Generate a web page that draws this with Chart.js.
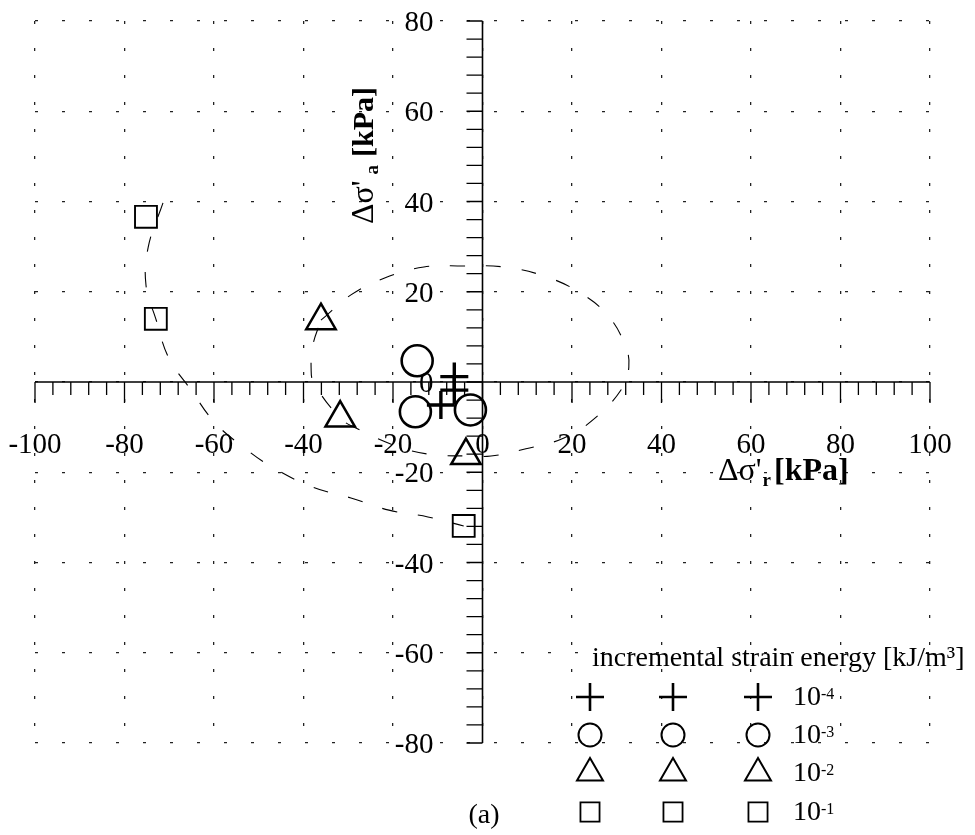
<!DOCTYPE html>
<html><head><meta charset="utf-8">
<script src="https://cdn.jsdelivr.net/npm/chart.js@4.4.1/dist/chart.umd.min.js"></script>
<style>html,body{margin:0;padding:0;background:#fff;}canvas{display:block;}</style>
</head><body>
<canvas id="c" width="975" height="835"></canvas>
<script>
// ---- axis ranges and tick labels ----
const xRange = [-100, 100];
const yRange = [-80, 80];
const gridStep = 20;
const minorStep = 4;
const xTickLabels = [-100, -80, -60, -40, -20, 0, 20, 40, 60, 80, 100];
const yTickLabels = [80, 60, 40, 20, 0, -20, -40, -60, -80];

// ---- data: incremental strain energy levels [kJ/m3] ----
const e4X = [-6.3, -6.3, -9.3];     // 10^-4 (plus)
const e4Y = [1.2, -1.8, -5.1];
const e3X = [-14.6, -15.0, -2.7];   // 10^-3 (circle)
const e3Y = [4.7, -6.6, -6.2];
const e2X = [-36.1, -31.8, -3.7];   // 10^-2 (triangle)
const e2Y = [13.6, -8.0, -16.3];
const e1X = [-75.2, -73.0, -4.2];   // 10^-1 (square)
const e1Y = [36.6, 14.0, -31.9];

// dashed closed curve through the 10^-2 points
const curve2X = [-36.1, -29.4, -22.0, -13.1, -4.4, 4.6, 13.1, 21.6, 28.3, 32.1, 32.7, 31.4, 25.4, 18.2, 9.7, 1.9, -3.7, -12.0, -19.8, -28.3, -31.8, -37.7, -38.3, -37.9, -36.1];
const curve2Y = [13.7, 19.3, 23.0, 25.5, 25.7, 25.5, 23.7, 19.9, 14.4, 7.5, 3.3, -1.1, -7.8, -12.4, -14.8, -16.4, -16.4, -16.0, -14.0, -10.2, -8.0, -0.2, 3.1, 8.2, 13.7];
// dashed arc through the 10^-1 points
const curve1X = [-71.4, -74.7, -75.2, -73.0, -70.1, -65.1, -59.9, -53.5, -46.6, -37.9, -29.4, -20.9, -12.2, -4.2];
const curve1Y = [39.7, 29.9, 21.5, 14.0, 5.3, -1.8, -8.9, -14.4, -19.1, -23.3, -25.7, -28.4, -29.9, -31.9];

const legendTitle = 'incremental strain energy [kJ/m\u00B3]';
const legendExponents = ['-4', '-3', '-2', '-1'];
const panelLabel = '(a)';

const pts = (xs, ys) => xs.map((v, i) => ({x: v, y: ys[i]}));
const SERIF = '"Liberation Serif", "Times New Roman", serif';

function drawRuns(ctx, x, y, parts) {
  let cx = x;
  for (const p of parts) {
    ctx.font = p.font;
    ctx.fillText(p.t, cx, y + (p.dy || 0));
    cx += ctx.measureText(p.t).width + (p.gap || 0);
  }
  return cx - x;
}

function sym(ctx, style, x, y, r, lw) {
  ctx.save();
  ctx.lineWidth = lw; ctx.strokeStyle = '#000'; ctx.setLineDash([]);
  ctx.beginPath();
  if (style === 'cross') {
    ctx.moveTo(x - r, y); ctx.lineTo(x + r, y);
    ctx.moveTo(x, y - r); ctx.lineTo(x, y + r);
  } else if (style === 'circle') {
    ctx.arc(x, y, r, 0, Math.PI * 2);
  } else if (style === 'triangle') {
    const s = Math.sin(Math.PI / 3) * r;
    ctx.moveTo(x, y - r); ctx.lineTo(x + s, y + r / 2); ctx.lineTo(x - s, y + r / 2); ctx.closePath();
  } else {
    const h = r * Math.SQRT1_2;
    ctx.rect(x - h, y - h, 2 * h, 2 * h);
  }
  ctx.stroke();
  ctx.restore();
}

const axesPlugin = {
  id: 'crossAxes',
  beforeDatasetsDraw(chart) {
    const {ctx, scales: {x, y}} = chart;
    const x0 = x.getPixelForValue(0), y0 = y.getPixelForValue(0);
    ctx.save();
    ctx.strokeStyle = '#000'; ctx.setLineDash([]);
    ctx.lineWidth = 1.6;
    ctx.beginPath();
    ctx.moveTo(x.getPixelForValue(xRange[0]), y0); ctx.lineTo(x.getPixelForValue(xRange[1]), y0);
    ctx.moveTo(x0, y.getPixelForValue(yRange[1])); ctx.lineTo(x0, y.getPixelForValue(yRange[0]));
    ctx.stroke();
    ctx.lineWidth = 1.3;
    ctx.beginPath();
    for (let v = xRange[0]; v <= xRange[1]; v += minorStep) {
      const px = x.getPixelForValue(v);
      const len = (v % gridStep === 0) ? 21 : 13;
      ctx.moveTo(px, y0); ctx.lineTo(px, y0 + len);
    }
    for (let v = yRange[0]; v <= yRange[1]; v += minorStep) {
      const py = y.getPixelForValue(v);
      ctx.moveTo(x0, py); ctx.lineTo(x0 - 16, py);
    }
    ctx.stroke();
    ctx.restore();
  },
  afterDraw(chart) {
    const {ctx, scales: {x, y}} = chart;
    const x0 = x.getPixelForValue(0), y0 = y.getPixelForValue(0);
    ctx.save();
    ctx.fillStyle = '#000';
    ctx.textBaseline = 'alphabetic';
    ctx.font = '29px ' + SERIF;
    ctx.textAlign = 'center';
    for (const v of xTickLabels) ctx.fillText(String(v), x.getPixelForValue(v), y0 + 71);
    ctx.textAlign = 'right';
    for (const v of yTickLabels) ctx.fillText(String(v), x0 - 49, y.getPixelForValue(v) + 10);
    ctx.textAlign = 'left';
    // x axis title
    drawRuns(ctx, 718, 480, [
      {t: '\u0394\u03C3\'', font: '32px ' + SERIF, gap: 1},
      {t: 'r', font: 'bold 19px ' + SERIF, dy: 6, gap: 3},
      {t: '[kPa]', font: 'bold 32px ' + SERIF}
    ]);
    // y axis title (rotated)
    ctx.save();
    ctx.translate(373, 224);
    ctx.rotate(-Math.PI / 2);
    drawRuns(ctx, 0, 0, [
      {t: '\u0394\u03C3\'', font: '32px ' + SERIF, gap: 6},
      {t: 'a', font: 'bold 19px ' + SERIF, dy: 5, gap: 8},
      {t: '[kPa]', font: 'bold 30px ' + SERIF}
    ]);
    ctx.restore();
    // legend
    ctx.font = '28px ' + SERIF;
    ctx.fillText(legendTitle, 592, 666);
    const rows = [697, 735, 773, 812];
    const cols = [590, 673, 758];
    const styles = [['cross', 14, 2.6], ['circle', 11.5, 2], ['triangle', 15, 2], ['rect', 13.5, 1.8]];
    rows.forEach((ry, i) => {
      cols.forEach(cx => sym(ctx, styles[i][0], cx, ry, styles[i][1], styles[i][2]));
      ctx.fillStyle = '#000';
      drawRuns(ctx, 793, ry + 8, [
        {t: '10', font: '28px ' + SERIF},
        {t: legendExponents[i], font: '16px ' + SERIF, dy: -6}
      ]);
    });
    ctx.font = '28px ' + SERIF;
    ctx.textAlign = 'center';
    ctx.fillText(panelLabel, 484, 823);
    ctx.restore();
  }
};

const markerBase = {showLine: false, borderColor: '#000', backgroundColor: 'rgba(0,0,0,0)'};
const curveBase = {showLine: true, pointRadius: 0, borderColor: '#000', borderWidth: 1.1,
  borderDash: [15, 21], tension: 0.4, fill: false};

new Chart(document.getElementById('c'), {
  type: 'scatter',
  data: {
    datasets: [
      Object.assign({label: '10^-4', data: pts(e4X, e4Y), pointStyle: 'cross', pointRadius: 14, pointBorderWidth: 3.4}, markerBase),
      Object.assign({label: '10^-3', data: pts(e3X, e3Y), pointStyle: 'circle', pointRadius: 15.5, pointBorderWidth: 2.6}, markerBase),
      Object.assign({label: '10^-2', data: pts(e2X, e2Y), pointStyle: 'triangle', pointRadius: 17, pointBorderWidth: 2.5}, markerBase),
      Object.assign({label: '10^-1', data: pts(e1X, e1Y), pointStyle: 'rect', pointRadius: 15.5, pointBorderWidth: 1.9}, markerBase),
      Object.assign({label: 'curve 10^-2', data: pts(curve2X, curve2Y)}, curveBase),
      Object.assign({label: 'curve 10^-1', data: pts(curve1X, curve1Y)}, curveBase)
    ]
  },
  options: {
    responsive: false,
    animation: false,
    devicePixelRatio: 1,
    layout: {padding: {left: 35, right: 45, top: 21, bottom: 92}},
    plugins: {legend: {display: false}, tooltip: {enabled: false}},
    scales: {
      x: {type: 'linear', min: xRange[0], max: xRange[1],
          ticks: {display: false, stepSize: gridStep},
          grid: {color: '#222', lineWidth: 1.3, drawTicks: false},
          border: {display: false, dash: [3, 24], dashOffset: 0}},
      y: {type: 'linear', min: yRange[0], max: yRange[1],
          ticks: {display: false, stepSize: gridStep},
          grid: {color: '#222', lineWidth: 1.3, drawTicks: false},
          border: {display: false, dash: [3, 24], dashOffset: 0}}
    }
  },
  plugins: [axesPlugin]
});
</script>
</body></html>
